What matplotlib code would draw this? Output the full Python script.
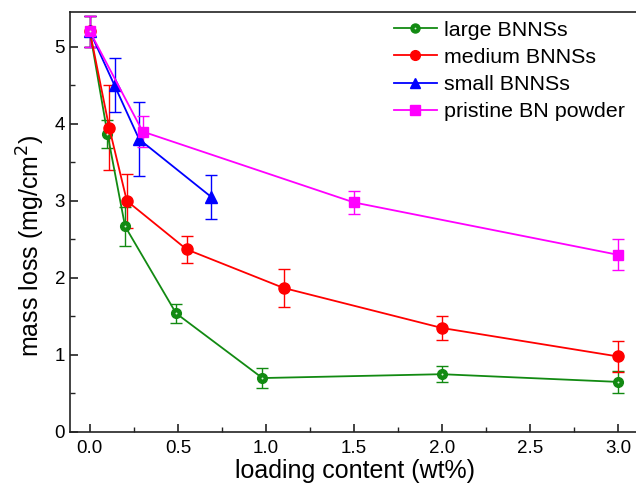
import matplotlib
matplotlib.use("Agg")
import matplotlib.pyplot as plt
from matplotlib.ticker import MultipleLocator
from matplotlib.lines import Line2D

plt.rcParams['font.family'] = ['Liberation Sans', 'DejaVu Sans']

large_x = [0.0, 0.10, 0.20, 0.49, 0.98, 2.0, 3.0]
large_y = [5.2, 3.87, 2.67, 1.54, 0.70, 0.75, 0.65]
large_e = [0.2, 0.18, 0.25, 0.12, 0.13, 0.10, 0.14]

medium_x = [0.0, 0.11, 0.21, 0.55, 1.10, 2.0, 3.0]
medium_y = [5.2, 3.95, 3.0, 2.37, 1.87, 1.35, 0.98]
medium_e = [0.2, 0.55, 0.35, 0.18, 0.25, 0.15, 0.20]

small_x = [0.0, 0.14, 0.28, 0.69]
small_y = [5.2, 4.5, 3.8, 3.05]
small_e = [0.2, 0.35, 0.48, 0.28]

pristine_x = [0.0, 0.30, 1.5, 3.0]
pristine_y = [5.2, 3.9, 2.98, 2.3]
pristine_e = [0.2, 0.2, 0.15, 0.2]

labels = ['large BNNSs', 'medium BNNSs', 'small BNNSs', 'pristine BN powder']

fig = plt.figure(figsize=(6.36, 4.87), dpi=100)
ax = fig.add_axes([0.110, 0.113, 0.895, 0.862])

green = '#128a12'
red = '#ff0000'
blue = '#0000ff'
magenta = '#ff00ff'

common = dict(linewidth=1.3, elinewidth=1.0, capsize=4, capthick=1.0)

ax.errorbar(large_x, large_y, yerr=large_e, color=green, marker='o', markersize=7,
            markerfacecolor=green, markeredgecolor=green, zorder=3, **common)
ax.plot(large_x, large_y, linestyle='none', marker='o', markersize=1.4,
        markerfacecolor='#d8f0d8', markeredgecolor='none', zorder=4)
ax.errorbar(medium_x, medium_y, yerr=medium_e, color=red, marker='o', markersize=8,
            zorder=3, **common)
ax.errorbar(small_x, small_y, yerr=small_e, color=blue, marker='^', markersize=8.5,
            zorder=3, **common)
ax.errorbar(pristine_x, pristine_y, yerr=pristine_e, color=magenta, marker='s', markersize=7,
            zorder=3, **common)

h1 = Line2D([], [], color=green, marker='o', markersize=6.5, linewidth=1.3)
h1b = Line2D([], [], linestyle='none', marker='o', markersize=1.3, markerfacecolor='#d8f0d8', markeredgecolor='none')
h2 = Line2D([], [], color=red, marker='o', markersize=7, linewidth=1.3)
h3 = Line2D([], [], color=blue, marker='^', markersize=7, linewidth=1.3)
h4 = Line2D([], [], color=magenta, marker='s', markersize=6.5, linewidth=1.3)
ax.legend([(h1, h1b), h2, h3, h4], labels,
          loc='upper right', bbox_to_anchor=(0.998, 1.01), frameon=False, fontsize=15.4,
          handlelength=2.0, handletextpad=0.35, labelspacing=0.38, borderaxespad=0.2)

ax.set_xlim(-0.113, 3.12)
ax.set_ylim(0, 5.45)
ax.set_xticks([0, 0.5, 1.0, 1.5, 2.0, 2.5, 3.0])
ax.set_xticklabels(['0.0', '0.5', '1.0', '1.5', '2.0', '2.5', '3.0'])
ax.xaxis.set_minor_locator(MultipleLocator(0.25))
ax.yaxis.set_major_locator(MultipleLocator(1))
ax.yaxis.set_minor_locator(MultipleLocator(0.5))
ax.tick_params(which='major', direction='in', length=6, width=1.2, labelsize=13.5, color='#222222')
ax.tick_params(which='minor', direction='in', length=3.5, width=1.0, color='#222222')
ax.tick_params(axis='x', pad=6)
for s in ax.spines.values():
    s.set_linewidth(1.2)
    s.set_color('#222222')

ax.set_xlabel('loading content (wt%)', fontsize=18, labelpad=1)
ax.set_ylabel('mass loss (mg/cm$^2$)', fontsize=18)
ax.yaxis.set_label_coords(-0.04, 0.443)

fig.savefig('out.png', dpi=100)
